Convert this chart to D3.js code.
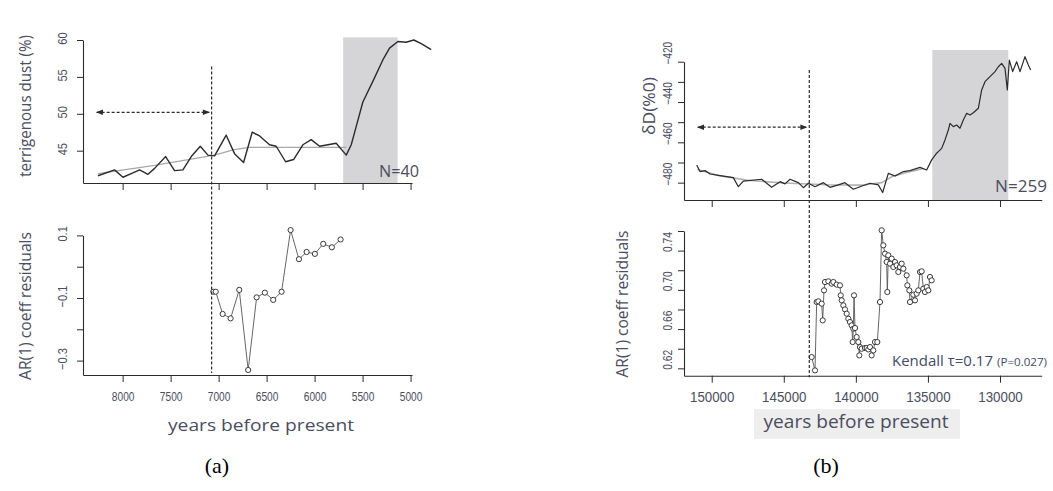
<!DOCTYPE html>
<html>
<head>
<meta charset="utf-8">
<script src="https://cdn.jsdelivr.net/npm/d3@7"></script>
<style>
  body { margin: 0; background: #fff; }
  svg { display: block; font-family: "Open Sans", sans-serif; }
</style>
</head>
<body>
<div id="wrapper"></div>
<script>
// ---- (a) terrigenous dust record, N=40
const dustYears = [8257, 8084, 7997, 7893, 7823, 7736, 7667, 7552, 7459, 7372, 7285, 7191, 7111, 7042,
    6921, 6834, 6740, 6650, 6573, 6469, 6400, 6302, 6219, 6122, 6035, 5948, 5861, 5775, 5670, 5618,
    5566, 5497, 5393, 5289, 5219, 5132, 5046, 4966, 4889, 4785];
const dustValues = [41.6, 42.4, 41.4, 42.0, 42.4, 41.8, 42.6, 44.2, 42.3, 42.4, 44.2, 45.6, 44.4, 44.3,
    47.1, 44.6, 43.4, 47.5, 47.0, 45.8, 45.6, 43.5, 43.8, 45.8, 46.5, 45.6, 45.8, 46.0, 44.4, 45.8,
    48.3, 51.6, 54.4, 57.3, 58.9, 59.8, 59.7, 60.0, 59.5, 58.7];
const dustTrendYears = [8257, 7667, 7042, 6850, 6680, 5670];
const dustTrendValues = [41.9, 43.0, 44.4, 45.1, 45.45, 45.45];

// ---- (a) AR(1) coefficient residuals
const arAYears = [7055, 7030, 6958, 6875, 6785, 6692, 6604, 6518, 6431, 6344, 6250, 6163, 6083, 5997, 5910, 5820, 5729];
const arAValues = [-0.080, -0.080, -0.151, -0.165, -0.074, -0.330, -0.098, -0.083, -0.106, -0.080,
    0.117, 0.024, 0.047, 0.041, 0.073, 0.062, 0.087];

// ---- (b) deuterium record, N=259
const dDYears = [151043, 150812, 150465, 150118, 149424, 148499, 148153, 147806, 146534, 145840,
    145262, 144915, 144568, 143990, 143643, 143297, 142834, 142256, 141794, 141215,
    140753, 140175, 139712, 139018, 138440, 138140, 137747, 137284, 136706, 136244,
    135550, 135087, 134741, 134394, 134278, 134046, 133815, 133584, 133469, 133237,
    133006, 132775, 132544, 132312, 132081, 131850, 131503, 131272, 131040, 130693,
    130347, 130116, 129884, 129653, 129492, 129353, 129121, 128844, 128612, 128266,
    128035, 127872];
const dDValues = [-471.2, -474.5, -474.0, -475.7, -476.5, -477.5, -482.0, -479.2, -478.3, -482.3,
    -479.5, -480.6, -478.3, -480.0, -482.5, -480.3, -482.0, -480.0, -482.3, -481.1,
    -480.0, -483.3, -482.0, -480.3, -481.1, -484.9, -475.4, -476.7, -474.5, -474.0,
    -472.4, -473.7, -468.7, -465.4, -464.6, -463.0, -458.8, -453.9, -450.6, -452.2,
    -451.4, -453.0, -448.9, -445.6, -446.4, -445.3, -443.1, -434.0, -429.9, -427.4,
    -424.9, -422.5, -420.8, -423.3, -434.0, -419.2, -424.9, -420.0, -424.9, -417.5,
    -421.6, -424.1];
const dDTrendYears = [151000, 149500, 147500, 145000, 142000, 139500, 138200, 137500, 136500, 135300];
const dDTrendValues = [-473.5, -476.5, -478.8, -480.2, -481.0, -481.2, -480.0, -477.0, -475.0, -473.0];

// ---- (b) AR(1) coefficient residuals
const arBYears = [143065, 142834, 142718, 142603, 142371, 142300, 142209, 142140, 141909, 141677,
    141562, 141331, 141099, 141050, 140984, 140868, 140753, 140637, 140522, 140406,
    140290, 140221, 140175, 140128, 140059, 139943, 139828, 139759, 139712, 139596,
    139365, 139249, 139134, 139018, 138903, 138787, 138671, 138510, 138325, 138209,
    138094, 137978, 137862, 137816, 137747, 137631, 137515, 137400, 137284, 137168,
    137053, 136937, 136822, 136706, 136475, 136428, 136290, 136243, 136012, 135897,
    135781, 135666, 135550, 135434, 135319, 135203, 135087, 134972, 134856, 134740];
const arBValues = [0.6315, 0.6179, 0.6876, 0.6883, 0.6859, 0.6689, 0.6995, 0.7080, 0.7087, 0.7063,
    0.7080, 0.7053, 0.7046, 0.6944, 0.6893, 0.6842, 0.6801, 0.6757, 0.6706, 0.6672,
    0.6638, 0.6468, 0.6604, 0.6944, 0.6611, 0.6519, 0.6468, 0.6332, 0.6417, 0.6400,
    0.6407, 0.6407, 0.6393, 0.6417, 0.6332, 0.6383, 0.6468, 0.6468, 0.6876, 0.7607,
    0.7454, 0.7369, 0.7284, 0.6978, 0.7352, 0.7267, 0.7318, 0.7233, 0.7284, 0.7250,
    0.7182, 0.7233, 0.7267, 0.7216, 0.7148, 0.7046, 0.6995, 0.6876, 0.6951, 0.6893,
    0.6961, 0.6995, 0.7182, 0.7189, 0.7012, 0.6978, 0.7029, 0.6995, 0.7131, 0.7097];

// ---- ticks and annotations
const xTicksA = [8000, 7500, 7000, 6500, 6000, 5500, 5000];
const yTicksDust = [45, 50, 55, 60];
const yTicksArA = [-0.3, -0.2, -0.1, 0, 0.1];
const yLabelsArA = [-0.3, -0.1, 0.1];
const xTicksB = [150000, 145000, 140000, 135000, 130000];
const yTicksDD = [-480, -470, -460, -450, -440, -430, -420];
const yLabelsDD = [-480, -460, -440, -420];
const yTicksArB = [0.62, 0.64, 0.66, 0.68, 0.70, 0.72, 0.74, 0.76];
const yLabelsArB = [0.62, 0.66, 0.70, 0.74];

const cutoffA = 7073, cutoffB = 143230;
const windowA = [8271, 7098], windowB = [150971, 143410];
const shadeA = [5702, 5135], shadeB = [134697, 129424];

const width = 1053, height = 491;
const ink = "#2b2b2b";
const labelInk = "#4b4d60";

const svg = d3.select("#wrapper").append("svg")
    .attr("width", width)
    .attr("height", height);

svg.append("defs").append("marker")
    .attr("id", "arr")
    .attr("viewBox", "0 0 10 10")
    .attr("refX", 9).attr("refY", 5)
    .attr("markerUnits", "userSpaceOnUse")
    .attr("markerWidth", 8).attr("markerHeight", 7)
    .attr("orient", "auto-start-reverse")
    .append("path")
    .attr("d", "M0,1L10,5L0,9z")
    .attr("fill", ink);

// scales (ranges are the plot frames)
const xA = d3.scaleLinear().domain([8413, 4985]).range([83, 412]);
const yDust = d3.scaleLinear().domain([40.62, 60]).range([183, 40]);
const yArA = d3.scaleLinear().domain([-0.346, 0.1]).range([375, 235.4]);
const xB = d3.scaleLinear().domain([151922, 127107]).range([684, 1041.7]);
const yDD = d3.scaleLinear().domain([-488.6, -420]).range([200, 61.7]);
const yArB = d3.scaleLinear().domain([0.6125, 0.76]).range([375.7, 231]);

function squeeze(sel, factor) {
    sel.each(function () {
        const w = this.getComputedTextLength();
        d3.select(this).attr("textLength", w * factor).attr("lengthAdjust", "spacingAndGlyphs");
    });
}

function fmtMinus(v, digits) {
    return (v < 0 ? "\u2212" : "") + Math.abs(v).toFixed(digits);
}

function bottomAxis(x, yPos, ticks, labels, fontSize, factor) {
    const g = svg.append("g")
        .attr("transform", `translate(0,${yPos})`)
        .attr("color", ink)
        .call(d3.axisBottom(x).tickValues(ticks).tickSize(7).tickSizeOuter(0)
            .tickFormat(d => labels ? d : ""));
    g.select(".domain").attr("stroke-width", 1.1);
    const t = g.selectAll(".tick text")
        .attr("y", 26).attr("dy", 0)
        .attr("fill", labelInk)
        .style("font-size", fontSize + "px");
    if (labels) squeeze(t, factor);
    return g;
}

function leftAxis(y, xPos, ticks, labels, format, opts) {
    const g = svg.append("g")
        .attr("transform", `translate(${xPos},0)`)
        .attr("color", ink)
        .call(d3.axisLeft(y).tickValues(ticks).tickSize(6).tickSizeOuter(0)
            .tickFormat(d => labels.some(l => Math.abs(l - d) < 1e-9) ? format(d) : ""));
    g.select(".domain").attr("stroke-width", 1.1);
    const t = g.selectAll(".tick text")
        .attr("transform", "rotate(-90)")
        .attr("x", opts.shift).attr("y", -opts.gap).attr("dy", 0)
        .attr("text-anchor", "middle")
        .attr("fill", labelInk)
        .style("font-size", opts.size + "px");
    squeeze(t, opts.factor);
    return g;
}

function shade(x, y, span, top) {
    svg.append("rect")
        .attr("x", x(span[0]))
        .attr("y", y(top))
        .attr("width", x(span[1]) - x(span[0]))
        .attr("height", y.range()[0] - y(top))
        .attr("fill", "#d5d5d7");
}

function seriesLine(xs, vs, x, y, color, w) {
    const pts = xs.map((d, i) => [d, vs[i]]);
    svg.append("path")
        .attr("d", d3.line().x(d => x(d[0])).y(d => y(d[1]))(pts))
        .attr("fill", "none")
        .attr("stroke", color)
        .attr("stroke-width", w)
        .attr("stroke-linejoin", "round");
    return pts;
}

function points(xs, vs, x, y, r) {
    const pts = seriesLine(xs, vs, x, y, "#555", 0.9);
    svg.append("g").selectAll("circle")
        .data(pts)
        .join("circle")
        .attr("cx", d => x(d[0]))
        .attr("cy", d => y(d[1]))
        .attr("r", r)
        .attr("fill", "#fff")
        .attr("stroke", "#3a3a3a")
        .attr("stroke-width", 1);
}

function dashedArrow(x, y, span, v) {
    svg.append("line")
        .attr("x1", x(span[0])).attr("x2", x(span[1]))
        .attr("y1", y(v)).attr("y2", y(v))
        .attr("stroke", ink).attr("stroke-width", 1.2)
        .attr("stroke-dasharray", "3,2")
        .attr("marker-start", "url(#arr)")
        .attr("marker-end", "url(#arr)");
}

function cutLine(x, at, y1, y2) {
    svg.append("line")
        .attr("x1", x(at)).attr("x2", x(at))
        .attr("y1", y1).attr("y2", y2)
        .attr("stroke", ink).attr("stroke-width", 1.2)
        .attr("stroke-dasharray", "3,2");
}

function yTitle(text, xPos, yMid, len, size) {
    const t = svg.append("text")
        .attr("transform", `translate(${xPos},${yMid}) rotate(-90)`)
        .attr("text-anchor", "middle")
        .attr("fill", labelInk)
        .style("font-size", size + "px")
        .text(text);
    t.attr("textLength", len).attr("lengthAdjust", "spacingAndGlyphs");
    return t;
}

function plainText(text, xPos, yPos, size, anchor, len, color) {
    const t = svg.append("text")
        .attr("x", xPos).attr("y", yPos)
        .attr("text-anchor", anchor)
        .attr("fill", color || labelInk)
        .style("font-size", size + "px")
        .text(text);
    if (len) t.attr("textLength", len).attr("lengthAdjust", "spacingAndGlyphs");
    return t;
}

// ===== panel (a) =====
shade(xA, yDust, shadeA, 60.36);
seriesLine(dustTrendYears, dustTrendValues, xA, yDust, "#a8a8a8", 1.3);
seriesLine(dustYears, dustValues, xA, yDust, ink, 1.4);
leftAxis(yDust, 83, yTicksDust, yTicksDust, d => d, { shift: 2, gap: 16, size: 13, factor: 0.85 });
bottomAxis(xA, 183, xTicksA, false);
plainText("N=40", 419, 177, 17, "end", 40);

points(arAYears, arAValues, xA, yArA, 2.6);
leftAxis(yArA, 83, yTicksArA, yLabelsArA, d => fmtMinus(d, 1), { shift: 2, gap: 16, size: 13, factor: 0.85 });
bottomAxis(xA, 375, xTicksA, true, 13, 0.78);

cutLine(xA, cutoffA, yDust(56.4), yArA(-0.34));
dashedArrow(xA, yDust, windowA, 50.2);

yTitle("terrigenous dust (%)", 31, 106, 142, 16);
yTitle("AR(1) coeff residuals", 31, 306, 148, 16);
plainText("years before present", 261, 431, 17, "middle", 186);

// ===== panel (b) =====
shade(xB, yDD, shadeB, -414.2);
seriesLine(dDTrendYears, dDTrendValues, xB, yDD, "#b0b0b0", 1.6);
seriesLine(dDYears, dDValues, xB, yDD, ink, 1.2);
leftAxis(yDD, 684, yTicksDD, yLabelsDD, d => fmtMinus(d, 0), { shift: 9, gap: 12, size: 12, factor: 0.85 });
bottomAxis(xB, 200, xTicksB, false);
plainText("N=259", 1047, 191.5, 17, "end", 52);

points(arBYears, arBValues, xB, yArB, 2.6);
leftAxis(yArB, 684, yTicksArB, yLabelsArB, d => d.toFixed(2), { shift: 9, gap: 12, size: 12, factor: 0.85 });

// grey box behind the x title of (b)
svg.append("rect")
    .attr("x", 754).attr("y", 409)
    .attr("width", 206).attr("height", 30)
    .attr("fill", "#eeeeee");
bottomAxis(xB, 375.7, xTicksB, true, 14, 0.95);
plainText("years before present", 856, 428, 18, "middle", 185);

cutLine(xB, cutoffB, yDD(-424.1), yArB(0.611));
dashedArrow(xB, yDD, windowB, -452.5);

yTitle("\u03b4D(%0)", 655, 106, 58, 16);
yTitle("AR(1) coeff residuals", 628, 304, 147, 16);

plainText("Kendall \u03c4=0.17", 892, 366, 14, "start", 101, "#444a6a");
plainText("(P=0.027)", 997, 366, 11, "start", 50, "#444a6a");

// panel letters
svg.append("text").attr("x", 217).attr("y", 473).attr("text-anchor", "middle")
    .style("font-family", "'Liberation Serif', 'Times New Roman', serif")
    .style("font-size", "22px").attr("fill", "#000").text("(a)");
svg.append("text").attr("x", 826).attr("y", 473).attr("text-anchor", "middle")
    .style("font-family", "'Liberation Serif', 'Times New Roman', serif")
    .style("font-size", "22px").attr("fill", "#000").text("(b)");
</script>
</body>
</html>
